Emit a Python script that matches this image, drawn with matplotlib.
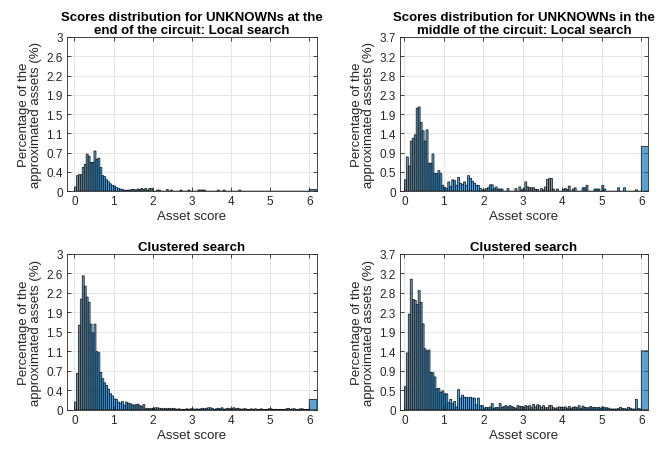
import matplotlib
matplotlib.use('Agg')
import matplotlib.pyplot as plt
import numpy as np

plt.rcParams['font.family'] = ['Liberation Sans', 'DejaVu Sans']

# histogram bins: 0.05 wide from 0 to 6, then one overflow bin 6 - 6.2
bin_edges = list(np.round(np.arange(0, 6.0001, 0.05), 2)) + [6.2]

# percentage of approximated assets per bin (rows = one score unit each)
end_local = (
    [0.08, 0.30, 0.32, 0.32, 0.46, 0.52, 0.72, 0.68, 0.56, 0.56, 0.78, 0.62, 0.64, 0.46, 0.30, 0.28, 0.22, 0.18, 0.14, 0.11]
    + [0.10, 0.07, 0.05, 0.04, 0.03, 0.02, 0.01, 0.02, 0.02, 0.03, 0.03, 0.02, 0.04, 0.03, 0.05, 0.03, 0.05, 0.02, 0.05, 0.05]
    + [0, 0, 0.02, 0.02, 0, 0, 0, 0.03, 0, 0.02, 0, 0, 0, 0, 0.02, 0, 0, 0, 0.02, 0]
    + [0, 0, 0, 0.02, 0.02, 0.02, 0.02, 0, 0, 0, 0, 0, 0, 0.02, 0, 0, 0.02, 0, 0, 0]
    + [0, 0, 0, 0, 0.02, 0, 0, 0, 0, 0, 0, 0, 0, 0, 0, 0, 0, 0, 0, 0]
    + [0, 0, 0, 0, 0, 0, 0, 0, 0, 0, 0, 0, 0, 0, 0, 0, 0, 0, 0, 0]
    + [0.03]
)
mid_local = (
    [0.27, 0.82, 0.60, 1.20, 1.27, 1.35, 1.99, 2.02, 1.65, 1.45, 1.20, 1.47, 0.67, 0.67, 0.89, 0.42, 0.42, 0.49, 0.42, 0.14]
    + [0.09, 0.06, 0.22, 0.11, 0.27, 0.25, 0.14, 0.33, 0.19, 0.16, 0.22, 0.14, 0.37, 0.31, 0.24, 0.19, 0.14, 0.14, 0.06, 0.03]
    + [0.03, 0.06, 0.08, 0.15, 0.15, 0.06, 0.10, 0.05, 0.05, 0.05, 0, 0, 0.06, 0, 0, 0, 0.06, 0, 0.10, 0.03]
    + [0.05, 0.22, 0.10, 0.08, 0.08, 0.08, 0.04, 0.04, 0, 0.06, 0.03, 0.10, 0.28, 0.30, 0.30, 0.05, 0, 0.05, 0, 0]
    + [0.04, 0.06, 0.04, 0.12, 0, 0.05, 0.08, 0, 0, 0, 0.08, 0.08, 0.14, 0, 0, 0, 0.05, 0.05, 0.05, 0]
    + [0.14, 0.05, 0, 0, 0, 0, 0, 0, 0.08, 0, 0, 0.08, 0, 0, 0, 0, 0, 0.03, 0, 0]
    + [1.07]
)
end_clustered = (
    [0.15, 0.70, 1.63, 2.13, 2.58, 2.38, 2.17, 2.07, 1.65, 1.48, 1.65, 1.12, 1.10, 0.72, 0.60, 0.52, 0.47, 0.40, 0.31, 0.27]
    + [0.21, 0.20, 0.15, 0.13, 0.16, 0.09, 0.15, 0.13, 0.12, 0.10, 0.09, 0.10, 0.11, 0.08, 0.07, 0.10, 0.02, 0.03, 0.02, 0.03]
    + [0.03, 0.04, 0.04, 0.03, 0.03, 0.02, 0.03, 0.02, 0.03, 0.02, 0.03, 0.02, 0.01, 0.02, 0.01, 0.01, 0.01, 0.02, 0.01, 0.02]
    + [0.02, 0.01, 0.02, 0.01, 0.02, 0.03, 0.02, 0.03, 0.04, 0.04, 0.03, 0.01, 0.02, 0.03, 0.02, 0.04, 0.01, 0.02, 0.03, 0.02]
    + [0.03, 0.04, 0.02, 0.03, 0.02, 0.01, 0.02, 0.02, 0.01, 0.01, 0.02, 0.01, 0.02, 0.01, 0.01, 0.02, 0.01, 0.01, 0.01, 0.02]
    + [0.02, 0.01, 0.01, 0.01, 0.01, 0.01, 0.01, 0.01, 0.02, 0.03, 0.01, 0.02, 0.02, 0.01, 0.01, 0.02, 0.02, 0.01, 0.01, 0.01]
    + [0.20]
)
mid_clustered = (
    [0.55, 1.35, 2.27, 3.10, 2.62, 2.60, 2.50, 2.83, 2.55, 2.04, 1.45, 1.40, 1.42, 0.89, 0.88, 0.78, 0.50, 0.51, 0.42, 0.45]
    + [0.38, 0.38, 0.17, 0.25, 0.15, 0.20, 0.07, 0.48, 0.28, 0.35, 0.30, 0.30, 0.28, 0.30, 0.28, 0.28, 0.12, 0.28, 0.10, 0.10]
    + [0.04, 0.06, 0.05, 0.07, 0.15, 0.04, 0.06, 0.05, 0.15, 0.06, 0.08, 0.10, 0.07, 0.10, 0.08, 0.06, 0.04, 0.10, 0.08, 0.08]
    + [0.06, 0.10, 0.08, 0.10, 0.05, 0.13, 0.07, 0.12, 0.10, 0.06, 0.10, 0.05, 0.05, 0.10, 0.10, 0.05, 0.04, 0.05, 0.07, 0.06]
    + [0.05, 0.07, 0.04, 0.08, 0.04, 0.06, 0.07, 0.05, 0.10, 0.04, 0.09, 0.06, 0.05, 0.05, 0.08, 0.05, 0.06, 0.05, 0.06, 0.04]
    + [0.07, 0.05, 0.05, 0.04, 0.02, 0.02, 0.02, 0.02, 0.03, 0.06, 0.03, 0.03, 0.02, 0.06, 0.04, 0.02, 0.02, 0.25, 0.03, 0.02]
    + [1.40]
)

x_ticks = [0, 1, 2, 3, 4, 5, 6]
y_labels_3 = ['0', '0.4', '0.7', '1.1', '1.5', '1.9', '2.2', '2.6', '3']
y_labels_37 = ['0', '0.5', '0.9', '1.4', '1.9', '2.3', '2.8', '3.2', '3.7']

titles = [
    'Scores distribution for UNKNOWNs at the\nend of the circuit: Local search',
    'Scores distribution for UNKNOWNs in the\nmiddle of the circuit: Local search',
    'Clustered search',
    'Clustered search',
]

dark = '#262626'
face = (0.0, 0.447, 0.741, 0.65)


def draw_hist(ax, values, ymax, ylabels, title, xlim):
    left = bin_edges[:-1]
    widths = np.diff(bin_edges)
    bars = ax.bar(left, values, width=widths, align='edge', color=face,
                  edgecolor='#151515', linewidth=0.55, zorder=3)
    for b in bars:
        b.set_snap(False)
    ax.set_xlim(xlim)
    ax.set_ylim(0, ymax)
    ax.set_xticks(x_ticks)
    ax.set_yticks(np.linspace(0, ymax, 9))
    ax.set_yticklabels(ylabels)
    ax.grid(True, color='#e0e0e0', linewidth=0.6, zorder=0)
    ax.set_axisbelow(True)
    ax.tick_params(direction='in', top=True, right=True, length=3,
                   width=0.6, colors=dark, labelsize=8.5, pad=3)
    for s in ax.spines.values():
        s.set_color(dark)
        s.set_linewidth(0.6)
    ax.set_title(title, fontsize=9.5, fontweight='bold', pad=3, linespacing=1.05)
    ax.set_xlabel('Asset score', fontsize=9.5, color=dark, labelpad=2)
    ax.set_ylabel('Percentage of the\napproximated assets (%)', fontsize=9.5,
                  color=dark, labelpad=3, linespacing=1.05)


fig = plt.figure(figsize=(6.66, 4.52), dpi=100)
ax1 = fig.add_axes([0.1006, 0.575, 0.3754, 0.341])
ax2 = fig.add_axes([0.6006, 0.575, 0.3724, 0.341])
ax3 = fig.add_axes([0.1006, 0.091, 0.3754, 0.345])
ax4 = fig.add_axes([0.6006, 0.091, 0.3724, 0.345])

draw_hist(ax1, end_local, 3, y_labels_3, titles[0], (-0.19, 6.2))
draw_hist(ax2, mid_local, 3.7, y_labels_37, titles[1], (-0.11, 6.17))
draw_hist(ax3, end_clustered, 3, y_labels_3, titles[2], (-0.19, 6.2))
draw_hist(ax4, mid_clustered, 3.7, y_labels_37, titles[3], (-0.11, 6.17))

plt.savefig('out.png', dpi=100)
